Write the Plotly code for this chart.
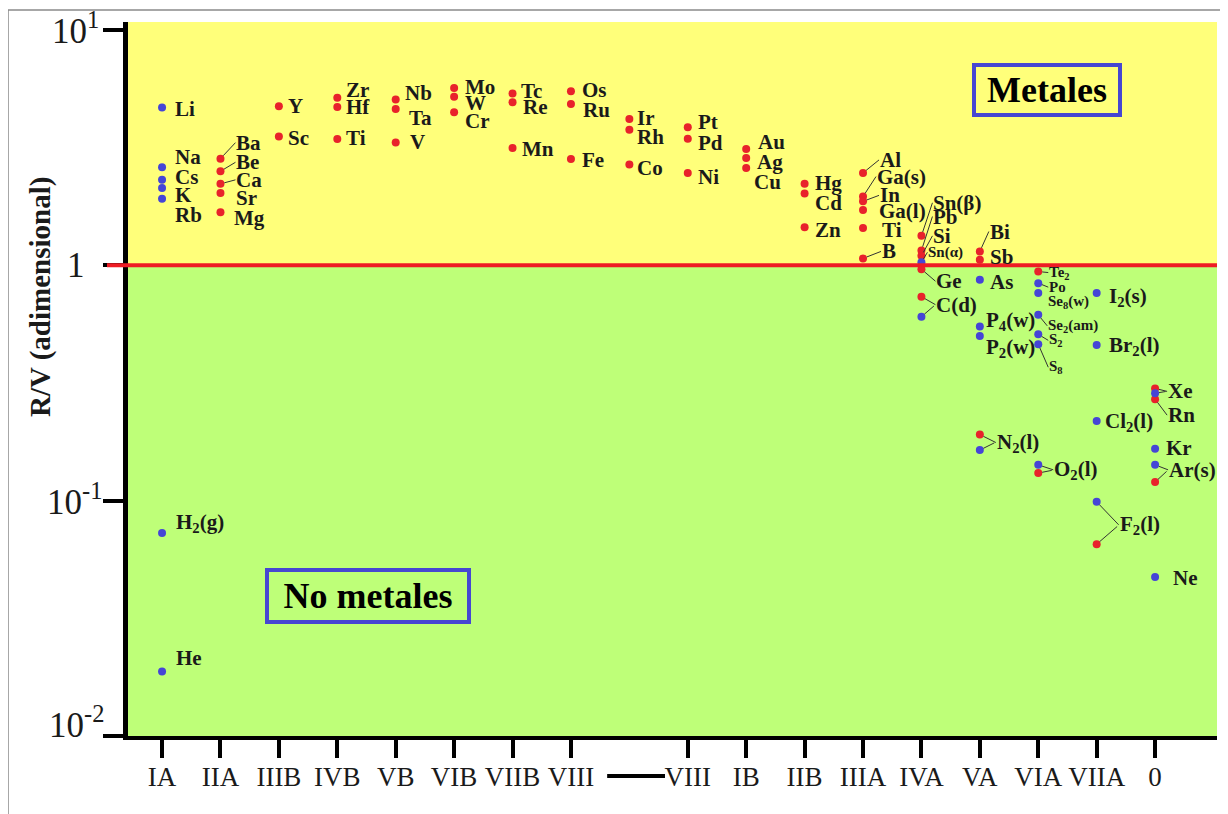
import math
import plotly.graph_objects as go

# ---------------- data ----------------
GROUP_LABELS = ["IA", "IIA", "IIIB", "IVB", "VB", "VIB", "VIIB", "VIII", "",
                "VIII", "IB", "IIB", "IIIA", "IVA", "VA", "VIA", "VIIA", "0"]

RED_NAMES = ["Ba", "Be", "Ca", "Sr", "Mg", "Y", "Sc", "Zr", "Hf", "Ti", "Nb", "Ta", "V",
             "Mo", "W", "Cr", "Tc", "Re", "Mn", "Os", "Ru", "Fe", "Ir", "Rh", "Co",
             "Pt", "Pd", "Ni", "Au", "Ag", "Cu", "Hg", "Cd", "Zn",
             "Al", "Ga(s)", "In", "Ga(l)", "Tl", "B",
             "Sn(β)", "Pb", "Si", "Ge", "C(d)", "Bi", "Sb", "N2(l)",
             "Te2", "O2(l)", "F2(l)", "Xe", "Rn", "Ar(s)"]
RED_GROUP = [1, 1, 1, 1, 1, 2, 2, 3, 3, 3, 4, 4, 4,
             5, 5, 5, 6, 6, 6, 7, 7, 7, 8, 8, 8,
             9, 9, 9, 10, 10, 10, 11, 11, 11,
             12, 12, 12, 12, 12, 12,
             13, 13, 13, 13, 13, 14, 14, 14,
             15, 15, 16, 17, 17, 17]
RED_RV = [2.84, 2.51, 2.22, 2.03, 1.68, 4.74, 3.53, 5.15, 4.71, 3.44, 5.06, 4.62, 3.33,
          5.67, 5.20, 4.47, 5.37, 4.93, 3.15, 5.49, 4.85, 2.83, 4.19, 3.77, 2.68,
          3.86, 3.45, 2.47, 3.12, 2.86, 2.59, 2.22, 2.02, 1.45,
          2.47, 1.96, 1.87, 1.72, 1.44, 1.07,
          1.335, 1.156, 1.097, 0.963, 0.736, 1.145, 1.055, 0.191,
          0.941, 0.131, 0.0653, 0.300, 0.270, 0.120]

BLUE_NAMES = ["Li", "Na", "Cs", "K", "Rb", "H2(g)", "He", "Sn(α)", "C(d)", "As",
              "P4(w)", "P2(w)", "N2(l)", "Po", "Se8(w)", "Se2(am)", "S2", "S8", "O2(l)",
              "I2(s)", "Br2(l)", "Cl2(l)", "F2(l)", "Xe", "Kr", "Ar(s)", "Ne"]
BLUE_GROUP = [0, 0, 0, 0, 0, 0, 0, 13, 13, 14,
              14, 14, 14, 15, 15, 15, 15, 15, 15,
              16, 16, 16, 16, 17, 17, 17, 17]
BLUE_RV = [4.68, 2.61, 2.31, 2.13, 1.92, 0.0729, 0.0188, 1.03, 0.605, 0.868,
           0.549, 0.501, 0.164, 0.840, 0.762, 0.616, 0.509, 0.462, 0.142,
           0.762, 0.459, 0.218, 0.0989, 0.286, 0.166, 0.142, 0.0474]

Y_TICKS = [0.01, 0.1, 1, 10]
Y_TICK_TEXT = ["10<sup>-2</sup>", "10<sup>-1</sup>", "1", "10<sup>1</sup>"]
THRESHOLD = 1.0

# ---------------- label layout (pixel offsets from the dot) ----------------
# (text, series, name, dx, dy, leader, small)
LABELS = [
    ("Li", "b", "Li", 12, 1, False, False),
    ("Na", "b", "Na", 12, -10, False, False),
    ("Cs", "b", "Cs", 12, -3, False, False),
    ("K", "b", "K", 12, 7, False, False),
    ("Rb", "b", "Rb", 12, 16, False, False),
    ("H<sub>2</sub>(g)", "b", "H2(g)", 13, -10, False, False),
    ("He", "b", "He", 13, -13, False, False),
    ("Ba", "r", "Ba", 15, -16, True, False),
    ("Be", "r", "Be", 15, -9, True, False),
    ("Ca", "r", "Ca", 15, -4, True, False),
    ("Sr", "r", "Sr", 15, 5, False, False),
    ("Mg", "r", "Mg", 13, 6, False, False),
    ("Y", "r", "Y", 8, 0, False, False),
    ("Sc", "r", "Sc", 8, 2, False, False),
    ("Zr", "r", "Zr", 8, -8, False, False),
    ("Hf", "r", "Hf", 8, 0, False, False),
    ("Ti", "r", "Ti", 8, -1, False, False),
    ("Nb", "r", "Nb", 8, -7, False, False),
    ("Ta", "r", "Ta", 12, 9, False, False),
    ("V", "r", "V", 13, 0, False, False),
    ("Mo", "r", "Mo", 10, -1, False, False),
    ("W", "r", "W", 10, 6, False, False),
    ("Cr", "r", "Cr", 10, 9, False, False),
    ("Tc", "r", "Tc", 7, -3, False, False),
    ("Re", "r", "Re", 9, 5, False, False),
    ("Mn", "r", "Mn", 8, 1, False, False),
    ("Os", "r", "Os", 10, -1, False, False),
    ("Ru", "r", "Ru", 11, 6, False, False),
    ("Fe", "r", "Fe", 10, 1, False, False),
    ("Ir", "r", "Ir", 7, -1, False, False),
    ("Rh", "r", "Rh", 7, 7, False, False),
    ("Co", "r", "Co", 7, 3, False, False),
    ("Pt", "r", "Pt", 9, -5, False, False),
    ("Pd", "r", "Pd", 9, 4, False, False),
    ("Ni", "r", "Ni", 9, 4, False, False),
    ("Au", "r", "Au", 11, -7, False, False),
    ("Ag", "r", "Ag", 10, 4, False, False),
    ("Cu", "r", "Cu", 7, 14, False, False),
    ("Hg", "r", "Hg", 9, -1, False, False),
    ("Cd", "r", "Cd", 9, 10, False, False),
    ("Zn", "r", "Zn", 9, 3, False, False),
    ("Al", "r", "Al", 16, -13, True, False),
    ("Ga(s)", "r", "Ga(s)", 13, -20, True, False),
    ("In", "r", "In", 16, -6, True, False),
    ("Ga(l)", "r", "Ga(l)", 15, 1, False, False),
    ("Ti", "r", "Tl", 18, 2, False, False),
    ("B", "r", "B", 18, -7, True, False),
    ("Sn(β)", "r", "Sn(β)", 11, -33, True, False),
    ("Pb", "r", "Pb", 11, -34, True, False),
    ("Si", "r", "Si", 11, -20, True, False),
    ("Sn(α)", "b", "Sn(α)", 6, -10, True, True),
    ("Ge", "r", "Ge", 14, 12, True, False),
    ("C(d)", "r", "C(d)", 14, 8, True, False),
    ("Bi", "r", "Bi", 9, -20, True, False),
    ("Sb", "r", "Sb", 9, -3, False, False),
    ("As", "b", "As", 9, 2, False, False),
    ("P<sub>4</sub>(w)", "b", "P4(w)", 5, -6, False, False),
    ("P<sub>2</sub>(w)", "b", "P2(w)", 5, 12, False, False),
    ("N<sub>2</sub>(l)", "r", "N2(l)", 16, 8, True, False),
    ("Te<sub>2</sub>", "r", "Te2", 10, 1, True, True),
    ("Po", "b", "Po", 10, 4, True, True),
    ("Se<sub>8</sub>(w)", "b", "Se8(w)", 9, 9, False, True),
    ("Se<sub>2</sub>(am)", "b", "Se2(am)", 9, 11, True, True),
    ("S<sub>2</sub>", "b", "S2", 10, 6, True, True),
    ("S<sub>8</sub>", "b", "S8", 10, 23, True, True),
    ("O<sub>2</sub>(l)", "b", "O2(l)", 15, 5, True, False),
    ("I<sub>2</sub>(s)", "b", "I2(s)", 11, 4, False, False),
    ("Br<sub>2</sub>(l)", "b", "Br2(l)", 11, 1, False, False),
    ("Cl<sub>2</sub>(l)", "b", "Cl2(l)", 7, 1, False, False),
    ("F<sub>2</sub>(l)", "b", "F2(l)", 22, 23, True, False),
    ("Xe", "r", "Xe", 12, 3, True, False),
    ("Rn", "r", "Rn", 12, 16, True, False),
    ("Kr", "b", "Kr", 10, -1, False, False),
    ("Ar(s)", "b", "Ar(s)", 13, 5, True, False),
    ("Ne", "b", "Ne", 17, 1, False, False),
]
# second leader lines for labels shared by two dots: (series, name, dx, dy)
EXTRA_LEADERS = [
    ("b", "C(d)", 14, -12),
    ("b", "N2(l)", 16, -8),
    ("r", "O2(l)", 15, -3),
    ("r", "F2(l)", 22, -19),
    ("b", "Xe", 12, -2),
    ("r", "Ar(s)", 13, -12),
]

# ---------------- geometry / style ----------------
OFF = 8                      # page body margin of the html page
W, H = 1228 - OFF, 814 - OFF
ML, MR, MT, MB = 128 - OFF, 11, 22 - OFF, 78
X_RANGE = [-0.583, 18.06]
Y_RANGE = [-2.0, 1.034]
FONT = "Liberation Serif"
RED = "#E8222B"
BLUE = "#4545D6"
YELLOW = "#FFFF7A"
GREEN = "#BEFF78"
INK = "#1a1a1a"
pw = W - ML - MR
ph = H - MT - MB
# y tick label placement: (screen right edge, yshift in px, positive = up)
YTICK_POS = {"10<sup>-2</sup>": (106, 14), "10<sup>-1</sup>": (104, 1),
             "1": (87, 0), "10<sup>1</sup>": (101, 2)}


def px_x(sx):   # screen x -> paper
    return (sx - OFF - ML) / pw


def px_y(sy):   # screen y -> paper
    return 1 - (sy - OFF - MT) / ph


lookup = {}
for n, g, v in zip(RED_NAMES, RED_GROUP, RED_RV):
    lookup[("r", n)] = (g, v)
for n, g, v in zip(BLUE_NAMES, BLUE_GROUP, BLUE_RV):
    lookup[("b", n)] = (g, v)

fig = go.Figure()
fig.add_trace(go.Scatter(x=RED_GROUP, y=RED_RV, mode="markers", text=RED_NAMES,
                         marker=dict(color=RED, size=8, line=dict(width=0)),
                         hoverinfo="text+y", name="rojo"))
fig.add_trace(go.Scatter(x=BLUE_GROUP, y=BLUE_RV, mode="markers", text=BLUE_NAMES,
                         marker=dict(color=BLUE, size=8, line=dict(width=0)),
                         hoverinfo="text+y", name="azul"))

thr_frac = (math.log10(THRESHOLD) - Y_RANGE[0]) / (Y_RANGE[1] - Y_RANGE[0])

shapes = [
    dict(type="rect", xref="paper", yref="paper", x0=0, x1=1, y0=thr_frac, y1=1,
         fillcolor=YELLOW, line=dict(width=0), layer="below"),
    dict(type="rect", xref="paper", yref="paper", x0=0, x1=1, y0=0, y1=thr_frac,
         fillcolor=GREEN, line=dict(width=0), layer="below"),
    dict(type="line", xref="paper", yref="paper", x0=px_x(107), x1=1, y0=thr_frac, y1=thr_frac,
         line=dict(color="#EE1C24", width=4), layer="above"),
    # dash between the two VIII labels
    dict(type="line", xref="x", yref="paper", x0=7.62, x1=8.61, y0=px_y(776), y1=px_y(776),
         line=dict(color="black", width=4)),
    # thin outer frame
    dict(type="line", xref="paper", yref="paper", x0=px_x(8), x1=px_x(1240), y0=px_y(10), y1=px_y(10),
         line=dict(color="#8a8a8a", width=1.5)),
    dict(type="line", xref="paper", yref="paper", x0=px_x(8), x1=px_x(8), y0=px_y(10), y1=px_y(830),
         line=dict(color="#8a8a8a", width=1.5)),
]

annotations = []
for text, ser, name, dx, dy, leader, small in LABELS:
    g, v = lookup[(ser, name)]
    f = dict(family=FONT, size=15 if small else 21, color=INK)
    if leader:
        annotations.append(dict(x=g, y=math.log10(v), ax=dx, ay=dy, text="<b>%s</b>" % text,
                                showarrow=True, arrowhead=0, arrowwidth=1, arrowcolor="#333",
                                standoff=4, xanchor="left", yanchor="middle", font=f, borderpad=0))
    else:
        annotations.append(dict(x=g, y=math.log10(v), xshift=dx, yshift=-dy, text="<b>%s</b>" % text,
                                showarrow=False, xanchor="left", yanchor="middle", font=f, borderpad=0))
for ser, name, dx, dy in EXTRA_LEADERS:
    g, v = lookup[(ser, name)]
    annotations.append(dict(x=g, y=math.log10(v), ax=dx, ay=dy, text="",
                            showarrow=True, arrowhead=0, arrowwidth=1, arrowcolor="#333", standoff=4))

# y tick labels (drawn as annotations for exact placement)
for tv, tt in zip(Y_TICKS, Y_TICK_TEXT):
    rx, sh = YTICK_POS[tt]
    annotations.append(dict(xref="paper", yref="y", x=px_x(rx), y=math.log10(tv), yshift=sh,
                            text=tt, showarrow=False, xanchor="right", yanchor="middle",
                            font=dict(family=FONT, size=35, color=INK)))

annotations += [
    dict(xref="paper", yref="paper", x=px_x(1047), y=px_y(89.5),
         text="<b>Metales</b>", showarrow=False, font=dict(family=FONT, size=36, color="black"),
         bordercolor="#4646D2", borderwidth=4, borderpad=3, width=136, height=40,
         xanchor="center", yanchor="middle"),
    dict(xref="paper", yref="paper", x=px_x(368), y=px_y(595.5),
         text="<b>No metales</b>", showarrow=False, font=dict(family=FONT, size=36, color="black"),
         bordercolor="#4646D2", borderwidth=4, borderpad=3, width=192, height=42,
         xanchor="center", yanchor="middle"),
    dict(xref="paper", yref="paper", x=px_x(40), y=px_y(297),
         text="<b>R/V (adimensional)</b>", textangle=-90, showarrow=False,
         font=dict(family=FONT, size=29, color=INK), xanchor="center", yanchor="middle"),
]

tickvals_x = [i for i, t in enumerate(GROUP_LABELS) if t != ""]
ticktext_x = [GROUP_LABELS[i] for i in tickvals_x]

fig.update_layout(
    width=W, height=H,
    margin=dict(l=ML, r=MR, t=MT, b=MB, autoexpand=False),
    paper_bgcolor="white", plot_bgcolor="rgba(0,0,0,0)",
    showlegend=False,
    shapes=shapes, annotations=annotations,
    xaxis=dict(range=X_RANGE, tickvals=tickvals_x, ticktext=ticktext_x,
               showgrid=False, zeroline=False, showline=True, linecolor="black", linewidth=4,
               ticks="outside", ticklen=18, tickwidth=4, tickcolor="black",
               ticklabelstandoff=-4,
               tickfont=dict(family=FONT, size=27, color=INK)),
    yaxis=dict(type="log", range=Y_RANGE, tickvals=Y_TICKS, showticklabels=False,
               showgrid=False, zeroline=False, showline=True, linecolor="black", linewidth=5,
               ticks="outside", ticklen=20, tickwidth=4, tickcolor="black"),
)

fig.write_html("out.html")
